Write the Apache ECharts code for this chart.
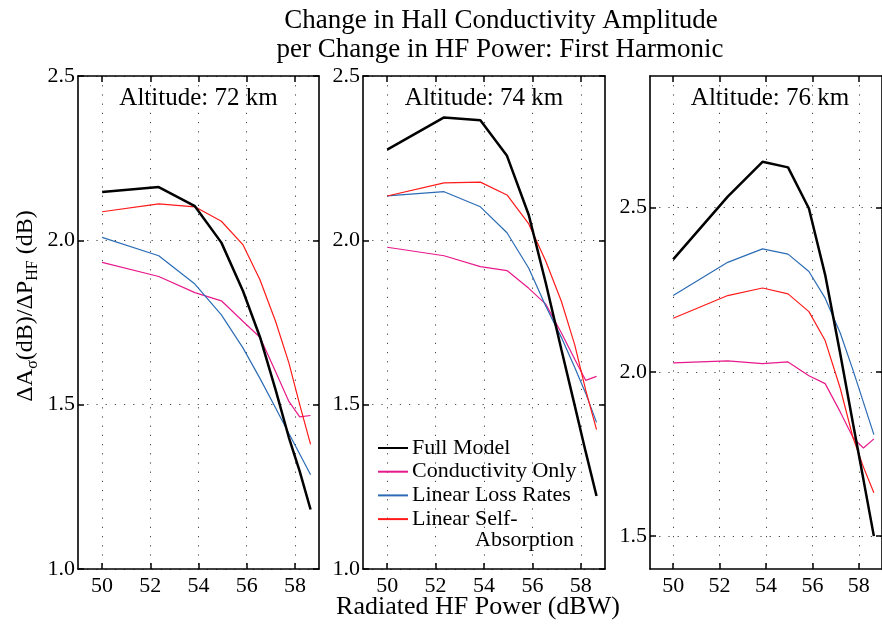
<!DOCTYPE html>
<html>
<head>
<meta charset="utf-8">
<script src="https://cdn.jsdelivr.net/npm/echarts@6/dist/echarts.min.js"></script>
<style>html,body{margin:0;padding:0;background:#fff}#c{width:882px;height:626px}</style>
</head>
<body>
<div id="c"></div>
<script>
// ---- data ----
const powerDbw = [50, 52.35, 53.85, 54.95, 55.85, 56.55, 57.2, 57.75, 58.2, 58.65];
const xTicks = [50, 52, 54, 56, 58];
const yTicksLow = [1.0, 1.5, 2.0, 2.5];
const yTicks76 = [1.5, 2.0, 2.5];
const seriesNames = ['Full Model', 'Conductivity Only', 'Linear Loss Rates', 'Linear Self-Absorption'];
const panelTitles = ['Altitude: 72 km', 'Altitude: 74 km', 'Altitude: 76 km'];

const full72 = [2.147, 2.162, 2.104, 1.993, 1.845, 1.706, 1.545, 1.400, 1.297, 1.181];
const cond72 = [1.933, 1.890, 1.841, 1.816, 1.753, 1.705, 1.600, 1.510, 1.463, 1.467];
const loss72 = [2.009, 1.953, 1.867, 1.773, 1.672, 1.580, 1.490, 1.412, 1.350, 1.287];
const self72 = [2.087, 2.111, 2.102, 2.058, 1.986, 1.880, 1.753, 1.627, 1.500, 1.379];

const full74 = [2.276, 2.374, 2.365, 2.257, 2.077, 1.871, 1.667, 1.497, 1.357, 1.222];
const cond74 = [1.979, 1.953, 1.920, 1.908, 1.854, 1.806, 1.718, 1.638, 1.574, 1.586];
const loss74 = [2.135, 2.148, 2.102, 2.023, 1.915, 1.800, 1.704, 1.613, 1.535, 1.446];
const self74 = [2.135, 2.175, 2.177, 2.138, 2.050, 1.937, 1.814, 1.682, 1.545, 1.424];

const full76 = [2.342, 2.533, 2.639, 2.622, 2.497, 2.295, 2.055, 1.843, 1.672, 1.500];
const cond76 = [2.027, 2.033, 2.025, 2.030, 1.988, 1.964, 1.878, 1.800, 1.768, 1.796];
const loss76 = [2.232, 2.333, 2.374, 2.358, 2.305, 2.224, 2.118, 2.005, 1.907, 1.809];
const self76 = [2.163, 2.232, 2.255, 2.237, 2.183, 2.095, 1.950, 1.800, 1.710, 1.632];

const panels = [
  {vals: [full72, cond72, loss72, self72], yMin: 1.0, yMax: 2.5, yTicks: yTicksLow},
  {vals: [full74, cond74, loss74, self74], yMin: 1.0, yMax: 2.5, yTicks: yTicksLow},
  {vals: [full76, cond76, loss76, self76], yMin: 1.4, yMax: 2.9, yTicks: yTicks76}
];

// ---- styling ----
const FONT = 'Liberation Serif';
const colors = ['#000000', '#e8198b', '#2b6cb5', '#ff1a1a'];
const widths = [2.5, 1.2, 1.2, 1.2];
const gridBoxes = [
  {left: 78, top: 76, width: 241, height: 493},
  {left: 363, top: 76, width: 242, height: 493},
  {left: 650, top: 76, width: 240, height: 493}
];
const dotted = {color: '#444', width: 1, type: [1.2, 8]};
const axLine = {show: true, lineStyle: {color: '#000', width: 1.6}};

const xAxes = [], yAxes = [], series = [];
panels.forEach((p, i) => {
  xAxes.push({
    type: 'value', gridIndex: i, position: 'bottom', min: 49, max: 59,
    axisLine: axLine,
    axisTick: {show: true, inside: true, length: 6, customValues: xTicks, lineStyle: {color: '#000', width: 1.5}},
    axisLabel: {customValues: xTicks, margin: 6, color: '#000', fontFamily: FONT, fontSize: 22},
    splitLine: {show: true, lineStyle: dotted}
  });
  xAxes.push({
    type: 'value', gridIndex: i, position: 'top', min: 49, max: 59,
    axisLine: axLine,
    axisTick: {show: true, inside: true, length: 6, customValues: xTicks, lineStyle: {color: '#000', width: 1.5}},
    axisLabel: {show: false},
    splitLine: {show: false}
  });
  yAxes.push({
    type: 'value', gridIndex: i, position: 'left', min: p.yMin, max: p.yMax,
    axisLine: axLine,
    axisTick: {show: true, inside: true, length: 6, customValues: p.yTicks, lineStyle: {color: '#000', width: 1.5}},
    axisLabel: {customValues: p.yTicks, margin: 3, color: '#000', fontFamily: FONT, fontSize: 22,
      formatter: v => v.toFixed(1)},
    splitLine: {show: true, lineStyle: dotted}
  });
  yAxes.push({
    type: 'value', gridIndex: i, position: 'right', min: p.yMin, max: p.yMax,
    axisLine: axLine,
    axisTick: {show: true, inside: true, length: 6, customValues: p.yTicks, lineStyle: {color: '#000', width: 1.5}},
    axisLabel: {show: false},
    splitLine: {show: false}
  });
  p.vals.forEach((arr, k) => {
    series.push({
      type: 'line', name: seriesNames[k], xAxisIndex: 2 * i, yAxisIndex: 2 * i,
      data: powerDbw.map((x, j) => [x, arr[j]]),
      symbol: 'none', smooth: false, silent: true,
      lineStyle: {color: colors[k], width: widths[k]},
      itemStyle: {color: colors[k]},
      z: k === 0 ? 3 : 2
    });
  });
});

const txt = (text, x, y, size, align) => ({
  type: 'text', x: x, y: y, silent: true,
  style: {text: text, fill: '#000', font: size + 'px "' + FONT + '"',
    textAlign: align || 'center', textVerticalAlign: 'middle', align: align || 'center', verticalAlign: 'middle'}
});

const graphics = [
  txt('Change in Hall Conductivity Amplitude', 501, 21, 27),
  txt('per Change in HF Power: First Harmonic', 500, 50, 27),
  txt('Radiated HF Power (dBW)', 478, 607, 26),
  txt('Absorption', 475, 540, 22, 'left'),
  {
    type: 'text', x: 26, y: 306, rotation: Math.PI / 2, silent: true,
    style: {
      text: 'ΔA{sub|σ}(dB)/ΔP{sub|HF} (dB)', fill: '#000', font: '24px "' + FONT + '"',
      textAlign: 'center', textVerticalAlign: 'middle', align: 'center', verticalAlign: 'middle',
      rich: {sub: {fontFamily: FONT, fontSize: 16, fill: '#000', verticalAlign: 'bottom', padding: [14, 0, 0, 0]}}
    }
  }
];
gridBoxes.forEach((g, i) => graphics.push(txt(panelTitles[i], g.left + g.width / 2, 98, 25)));

const chart = echarts.init(document.getElementById('c'), null, {renderer: 'canvas'});
chart.setOption({
  animation: false,
  backgroundColor: '#fff',
  grid: gridBoxes.map(g => Object.assign({containLabel: false}, g)),
  xAxis: xAxes,
  yAxis: yAxes,
  legend: {
    show: true, orient: 'vertical', left: 377, top: 437,
    itemWidth: 30, itemHeight: 22, itemGap: 1.7, padding: 0,
    selectedMode: false,
    itemStyle: {opacity: 0},
    data: seriesNames.map(n => ({name: n})),
    formatter: n => n === 'Linear Self-Absorption' ? 'Linear Self-' : n,
    textStyle: {color: '#000', fontFamily: FONT, fontSize: 22, padding: [0, 0, 0, -1]}
  },
  graphic: graphics,
  series: series
});
</script>
</body>
</html>
